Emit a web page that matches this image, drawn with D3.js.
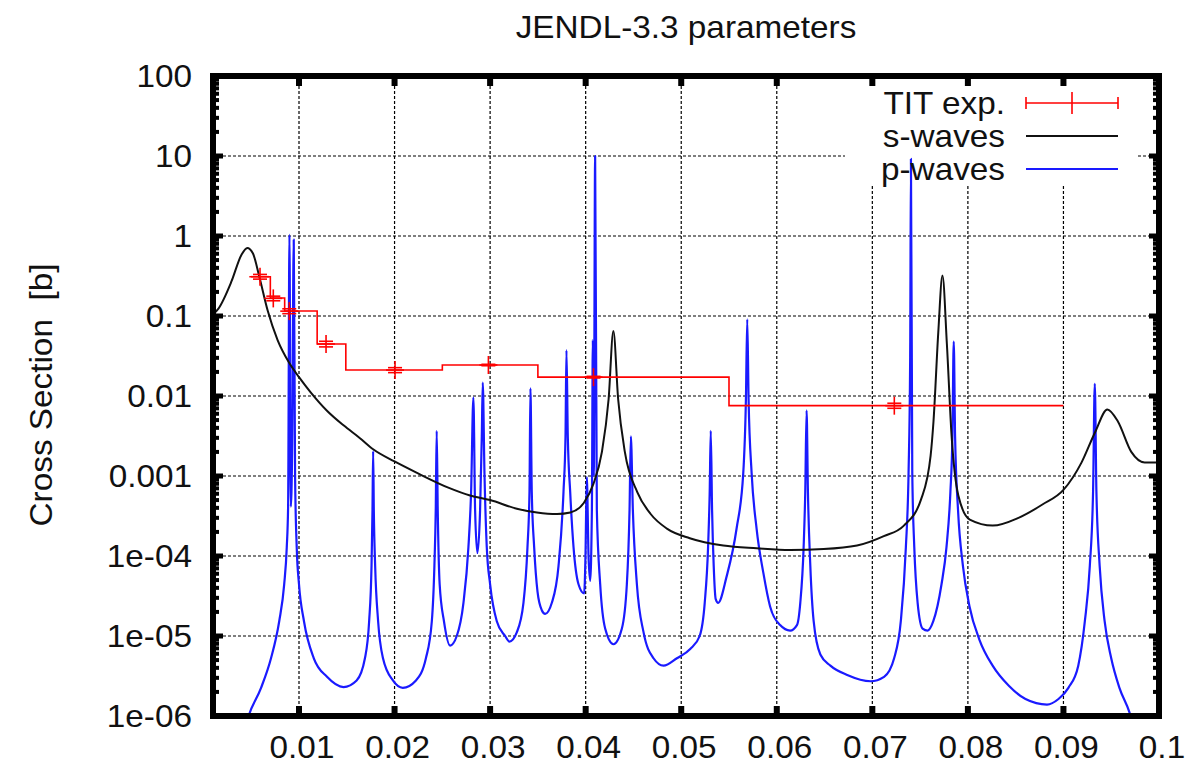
<!DOCTYPE html>
<html>
<head>
<meta charset="utf-8">
<script src="https://cdn.jsdelivr.net/npm/d3@7"></script>
<style>
  html, body { margin: 0; padding: 0; background: #fff; }
  svg { display: block; }
  text { font-family: "Liberation Sans", Arial, Helvetica, sans-serif; fill: #111; white-space: pre; }
</style>
</head>
<body>
<svg id="chart" width="1187" height="767"></svg>
<script>
// ---- data -------------------------------------------------------------
const title = "JENDL-3.3 parameters";
const yTitle = "Cross Section  [b]";
const xTicks = [0.01, 0.02, 0.03, 0.04, 0.05, 0.06, 0.07, 0.08, 0.09, 0.1];
const xTickLabels = ["0.01", "0.02", "0.03", "0.04", "0.05", "0.06", "0.07", "0.08", "0.09", "0.1"];
const yTicks = [1e-6, 1e-5, 1e-4, 1e-3, 1e-2, 1e-1, 1, 10, 100];
const yTickLabels = ["1e-06", "1e-05", "1e-04", "0.001", "0.01", "0.1", "1", "10", "100"];
const seriesNames = ["TIT exp.", "s-waves", "p-waves"];

// TIT measurement: histogram bins (edges) and bin values
const titEdges = [0.0048, 0.0070, 0.0085, 0.0119, 0.0149, 0.025, 0.035, 0.055, 0.09];
const titBinValues = [0.31, 0.168, 0.1155, 0.0447, 0.0211, 0.0244, 0.0172, 0.00757];
// TIT measurement points with errors
const titE = [0.00592, 0.00731, 0.00898, 0.01283, 0.02005, 0.02982, 0.04082, 0.0723];
const titValue = [0.31, 0.166, 0.115, 0.0447, 0.0211, 0.0244, 0.0172, 0.00757];
const titError = [0.021, 0.011, 0.008, 0.0036, 0.0015, 0.0005, 0.0004, 0.00055];

// s-wave cross section
const sE = [0.0010, 0.00155, 0.00293, 0.00397, 0.00459, 0.00517, 0.00586, 0.00672, 0.00776, 0.00897,
  0.0100, 0.0112, 0.0129, 0.01466, 0.01638, 0.01776, 0.0200, 0.02224, 0.02569, 0.0279,
  0.0300, 0.0328, 0.0349, 0.0370, 0.0384, 0.0398, 0.0408, 0.0417, 0.0424, 0.0429,
  0.0434, 0.0441, 0.0454, 0.0468, 0.0485, 0.0509, 0.0544, 0.0579, 0.0614, 0.0649,
  0.0684, 0.0712, 0.0733, 0.0751, 0.0761, 0.0764, 0.0769, 0.07734, 0.0778, 0.0783,
  0.0790, 0.0802, 0.0826, 0.0853, 0.0878, 0.0900, 0.0919, 0.0933, 0.0946, 0.0957,
  0.0971, 0.0985, 0.1000];
const sValue = [0.105, 0.123, 0.27, 0.58, 0.71, 0.61, 0.305, 0.117, 0.050, 0.026,
  0.0172, 0.0112, 0.0066, 0.0043, 0.00297, 0.00216, 0.00152, 0.00111, 0.00071, 5.7e-4,
  5.0e-4, 3.9e-4, 3.5e-4, 3.35e-4, 3.5e-4, 4.6e-4, 7.9e-4, 0.002, 0.0091, 0.065,
  0.0091, 0.002, 6.3e-4, 3.35e-4, 2.2e-4, 1.67e-4, 1.35e-4, 1.25e-4, 1.19e-4, 1.22e-4,
  1.35e-4, 1.77e-4, 2.4e-4, 5.1e-4, 0.0018, 0.0048, 0.062, 0.32, 0.045, 0.0031,
  5.7e-4, 2.85e-4, 2.4e-4, 3.0e-4, 4.4e-4, 6.7e-4, 0.00148, 0.0035, 0.0068, 0.0048,
  0.0020, 0.00148, 0.00148];

// p-wave cross section
const pE = [0.0046, 0.00472, 0.00603, 0.00707, 0.00793, 0.00845, 0.00872, 0.00886, 0.00900, 0.00914,
  0.00928, 0.00945, 0.00959, 0.00976, 0.01000, 0.01052, 0.01155, 0.01293, 0.01466, 0.01603,
  0.01690, 0.01734, 0.01759, 0.01769, 0.01776, 0.01783, 0.01797, 0.01828, 0.01879, 0.01983,
  0.02086, 0.02224, 0.02328, 0.02390, 0.02417, 0.02431, 0.02441, 0.02452, 0.02472, 0.02517,
  0.02581, 0.02651, 0.02721, 0.02773, 0.02801, 0.02825, 0.02843, 0.02867, 0.02895, 0.02913,
  0.02923, 0.02941, 0.02965, 0.03000, 0.03070, 0.03157, 0.03202, 0.03279, 0.03349, 0.03391,
  0.03412, 0.03422, 0.03436, 0.03461, 0.03496, 0.03541, 0.03576, 0.03646, 0.03716, 0.03768,
  0.03789, 0.03799, 0.03813, 0.03838, 0.03873, 0.03925, 0.03984, 0.03998, 0.04012, 0.04030,
  0.04047, 0.04065, 0.04075, 0.04085, 0.04099, 0.04117, 0.04152, 0.04204, 0.04291, 0.04379,
  0.04431, 0.04459, 0.04473, 0.04494, 0.04536, 0.04606, 0.04710, 0.04815, 0.04955, 0.05094,
  0.05193, 0.05246, 0.05281, 0.05298, 0.05309, 0.05323, 0.05340, 0.05361, 0.05386, 0.05474,
  0.05579, 0.05649, 0.05677, 0.05691, 0.05705, 0.05737, 0.05789, 0.05860, 0.05930, 0.06035,
  0.06140, 0.06211, 0.06246, 0.06281, 0.06298, 0.06312, 0.06326, 0.06351, 0.06386, 0.06456,
  0.06561, 0.06737, 0.06982, 0.07123, 0.07228, 0.07298, 0.07351, 0.07379, 0.07396, 0.07404,
  0.07418, 0.07439, 0.07474, 0.07526, 0.07579, 0.07638, 0.07724, 0.07776, 0.07817, 0.07838,
  0.07852, 0.07866, 0.07897, 0.07948, 0.08017, 0.08121, 0.08259, 0.08431, 0.08603, 0.08828,
  0.08948, 0.09052, 0.09155, 0.09224, 0.09276, 0.09310, 0.09328, 0.09345, 0.09379, 0.09431,
  0.09500, 0.09586, 0.09690, 0.09720];
const pValue = [9e-7, 1.0e-6, 2.25e-6, 5.27e-6, 1.53e-5, 4.43e-5, 1.29e-4, 4.14e-4, 1.03, 4.14e-4,
  2.0e-3, 0.90, 1.0e-3, 1.29e-4, 4.43e-5, 1.53e-5, 5.27e-6, 3.09e-6, 2.3e-6, 2.78e-6,
  5.27e-6, 1.53e-5, 7.53e-5, 3.72e-4, 2.05e-3, 3.72e-4, 7.53e-5, 1.53e-5, 5.27e-6, 2.78e-6,
  2.25e-6, 2.78e-6, 5.27e-6, 1.53e-5, 7.53e-5, 3.72e-4, 3.67e-3, 3.72e-4, 4.43e-5, 1.53e-5,
  7.6e-6, 1.0e-5, 2.6e-5, 1.29e-4, 6.34e-4, 9.57e-3, 3.72e-4, 1.09e-4, 3.72e-4, 3.13e-3,
  1.47e-2, 1.08e-3, 1.29e-4, 4.43e-5, 1.53e-5, 1.0e-5, 8.5e-6, 1.11e-5, 2.6e-5, 1.29e-4,
  6.34e-4, 1.25e-2, 6.34e-4, 1.29e-4, 3.58e-5, 2.1e-5, 1.89e-5, 2.6e-5, 7.53e-5, 6.34e-4,
  3.13e-3, 3.74e-2, 3.13e-3, 6.34e-4, 1.29e-4, 4.43e-5, 3.4e-5, 1.0e-4, 9.7e-4, 1.0e-4,
  4.9e-5, 3.72e-4, 0.05, 1.0e-3, 10.0, 3.72e-4, 4.43e-5, 1.24e-5, 7.89e-6, 1.24e-5,
  4.43e-5, 3.72e-4, 3.13e-3, 3.72e-4, 4.43e-5, 1.11e-5, 5.27e-6, 4.26e-6, 5.27e-6, 6.87e-6,
  1.0e-5, 2.6e-5, 1.29e-4, 6.34e-4, 3.67e-3, 3.72e-4, 7.53e-5, 2.89e-5, 2.6e-5, 5.48e-5,
  2.19e-4, 1.08e-3, 9.08e-3, 9.1e-2, 9.08e-3, 1.08e-3, 2.19e-4, 6.1e-5, 2.34e-5, 1.37e-5,
  1.17e-5, 1.37e-5, 2.6e-5, 1.29e-4, 6.34e-4, 6.6e-3, 6.34e-4, 7.53e-5, 1.53e-5, 5.86e-6,
  4.26e-6, 3.26e-6, 2.72e-6, 3.09e-6, 5.27e-6, 1.53e-5, 1.29e-4, 1.08e-3, 3.0e-2, 9.18,
  1.08e-3, 1.29e-4, 2.6e-5, 1.24e-5, 1.17e-5, 1.53e-5, 4.43e-5, 1.29e-4, 6.34e-4, 3.13e-3,
  4.8e-2, 3.13e-3, 3.72e-4, 7.53e-5, 2.34e-5, 8.97e-6, 4.26e-6, 2.37e-6, 1.63e-6, 1.39e-6,
  1.63e-6, 2.25e-6, 4.26e-6, 1.53e-5, 7.53e-5, 6.34e-4, 1.42e-2, 6.34e-4, 7.53e-5, 1.53e-5,
  5.27e-6, 2.25e-6, 1.12e-6, 8.5e-7];

// ---- layout -----------------------------------------------------------
const svg = d3.select("#chart");
const W = 1187, H = 767;
const plotLeft = 213, plotRight = 1159, plotTop = 76, plotBottom = 716;
const fs = 31, stretch = 1.075;   // label font size and horizontal stretch

const x = d3.scaleLinear().domain([0.001, 0.1]).range([plotLeft, plotRight]);
const y = d3.scaleLog().domain([1e-6, 100]).range([plotBottom, plotTop]);

svg.append("rect").attr("width", W).attr("height", H).attr("fill", "#fff");

svg.append("defs").append("clipPath").attr("id", "plotClip")
  .append("rect").attr("x", plotLeft).attr("y", plotTop)
  .attr("width", plotRight - plotLeft).attr("height", plotBottom - plotTop);

// grid
const grid = svg.append("g").attr("stroke", "#000").attr("stroke-width", 1.2)
  .attr("stroke-dasharray", "3,2").attr("fill", "none");
xTicks.filter(t => t < 0.1).forEach(t => {
  grid.append("line").attr("x1", x(t)).attr("x2", x(t)).attr("y1", plotTop).attr("y2", plotBottom);
});
yTicks.filter(t => t > 1e-6 && t < 100).forEach(t => {
  grid.append("line").attr("x1", plotLeft).attr("x2", plotRight).attr("y1", y(t)).attr("y2", y(t));
});

// key background
const keyBox = { x0: 845, x1: 1138, y0: 79, y1: 186 };
svg.append("rect").attr("x", keyBox.x0).attr("y", keyBox.y0)
  .attr("width", keyBox.x1 - keyBox.x0).attr("height", keyBox.y1 - keyBox.y0)
  .attr("fill", "#fff");

// data
const plot = svg.append("g").attr("clip-path", "url(#plotClip)");
const line = d3.line().x(d => x(d[0])).y(d => y(d[1])).curve(d3.curveMonotoneX);

const pData = pE.map((e, i) => [e, pValue[i]]);
const sData = sE.map((e, i) => [e, sValue[i]]);

plot.append("path").datum(pData).attr("d", line)
  .attr("fill", "none").attr("stroke", "#1a1aff").attr("stroke-width", 2.2)
  .attr("stroke-linejoin", "round");
plot.append("path").datum(sData).attr("d", line)
  .attr("fill", "none").attr("stroke", "#111").attr("stroke-width", 2)
  .attr("stroke-linejoin", "round");

// TIT step histogram
const steps = [];
titBinValues.forEach((v, i) => {
  steps.push([titEdges[i], v]);
  steps.push([titEdges[i + 1], v]);
});
plot.append("path").datum(steps)
  .attr("d", d3.line().x(d => x(d[0])).y(d => y(d[1])))
  .attr("fill", "none").attr("stroke", "#ff0000").attr("stroke-width", 1.6);

// TIT points with error bars
const red = plot.append("g").attr("stroke", "#ff0000").attr("stroke-width", 1.6);
const cap = 7, pt = 9;
titE.forEach((e, i) => {
  const cx = x(e), cy = y(titValue[i]);
  const yl = y(titValue[i] - titError[i]), yh = y(titValue[i] + titError[i]);
  red.append("line").attr("x1", cx).attr("x2", cx).attr("y1", cy - pt).attr("y2", cy + pt);
  red.append("line").attr("x1", cx - pt).attr("x2", cx + pt).attr("y1", cy).attr("y2", cy);
  red.append("line").attr("x1", cx - cap).attr("x2", cx + cap).attr("y1", yl).attr("y2", yl);
  red.append("line").attr("x1", cx - cap).attr("x2", cx + cap).attr("y1", yh).attr("y2", yh);
});

// ticks
const ticks = svg.append("g").attr("fill", "#000");
yTicks.forEach(t => {
  ticks.append("rect").attr("x", plotLeft).attr("y", y(t) - 2.5).attr("width", 10).attr("height", 5);
  ticks.append("rect").attr("x", plotRight - 10).attr("y", y(t) - 2.5).attr("width", 10).attr("height", 5);
});
for (let d = -6; d < 2; d++) {
  for (let m = 2; m <= 9; m++) {
    const v = m * Math.pow(10, d);
    ticks.append("rect").attr("x", plotLeft).attr("y", y(v) - 2).attr("width", 6).attr("height", 4);
    ticks.append("rect").attr("x", plotRight - 6).attr("y", y(v) - 2).attr("width", 6).attr("height", 4);
  }
}
xTicks.forEach(t => {
  ticks.append("rect").attr("x", x(t) - 3).attr("y", plotBottom - 10).attr("width", 6).attr("height", 10);
  ticks.append("rect").attr("x", x(t) - 3).attr("y", plotTop).attr("width", 6).attr("height", 10);
});

// frame
svg.append("rect").attr("x", plotLeft).attr("y", plotTop)
  .attr("width", plotRight - plotLeft).attr("height", plotBottom - plotTop)
  .attr("fill", "none").attr("stroke", "#000").attr("stroke-width", 6);

// text helper: places a label with a slight horizontal stretch
function label(g, tx, ty, str, anchor, rotate) {
  return g.append("text")
    .attr("transform", `translate(${tx},${ty})` + (rotate ? ` rotate(${rotate})` : "") + ` scale(${stretch},1)`)
    .attr("text-anchor", anchor).attr("font-size", fs).text(str);
}

// tick labels
const yLab = svg.append("g");
yTicks.forEach((t, i) => label(yLab, 192, y(t) + 11, yTickLabels[i], "end"));
const xLab = svg.append("g");
xTicks.forEach((t, i) => label(xLab, x(t) + 3, 758, xTickLabels[i], "middle"));

// titles
label(svg, 686, 38, title, "middle");
label(svg, 52, 395, yTitle, "middle", -90);

// key
const key = svg.append("g");
const keyRows = [103, 136, 169];
const sx0 = 1026, sx1 = 1118;
seriesNames.forEach((name, i) => label(key, 1005, keyRows[i] + 11, name, "end"));
const kr = key.append("g").attr("stroke", "#ff0000").attr("stroke-width", 1.6);
kr.append("line").attr("x1", sx0).attr("x2", sx1).attr("y1", keyRows[0]).attr("y2", keyRows[0]);
kr.append("line").attr("x1", sx0).attr("x2", sx0).attr("y1", keyRows[0] - 6).attr("y2", keyRows[0] + 6);
kr.append("line").attr("x1", sx1).attr("x2", sx1).attr("y1", keyRows[0] - 6).attr("y2", keyRows[0] + 6);
kr.append("line").attr("x1", (sx0 + sx1) / 2).attr("x2", (sx0 + sx1) / 2)
  .attr("y1", keyRows[0] - 11).attr("y2", keyRows[0] + 11);
key.append("line").attr("x1", sx0).attr("x2", sx1).attr("y1", keyRows[1]).attr("y2", keyRows[1])
  .attr("stroke", "#111").attr("stroke-width", 2);
key.append("line").attr("x1", sx0).attr("x2", sx1).attr("y1", keyRows[2]).attr("y2", keyRows[2])
  .attr("stroke", "#1a1aff").attr("stroke-width", 2.2);
</script>
</body>
</html>
